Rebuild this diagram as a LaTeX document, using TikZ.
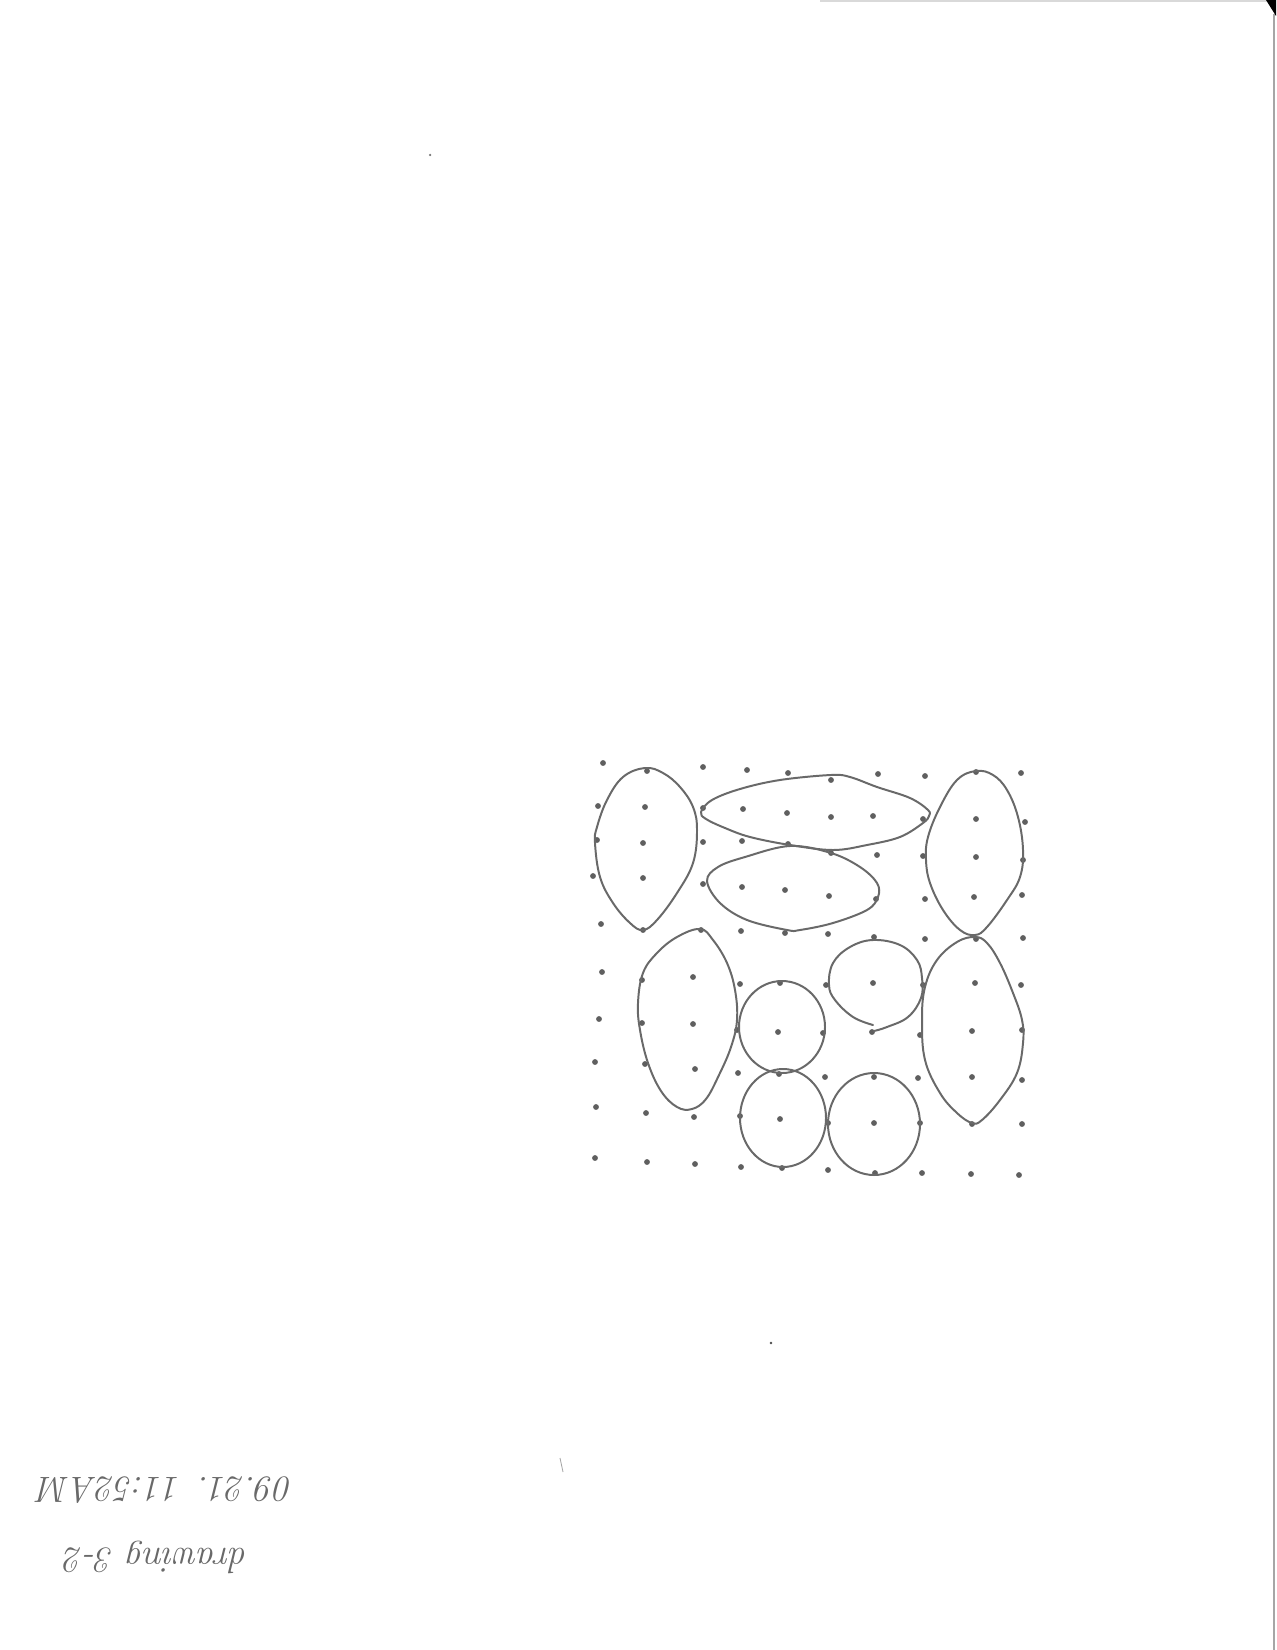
\documentclass[tikz,border=0pt]{standalone}
\usepackage{tikz}
\definecolor{pencil}{RGB}{105,105,105}
\definecolor{dotc}{RGB}{95,95,95}
\tikzset{
  outline/.style={draw=pencil, line width=0.95pt, line join=round, line cap=round},
  gdot/.style={fill=dotc},
  hand/.style={text=pencil, font=\fontsize{17.5}{20}\selectfont\itshape, inner sep=0pt, rotate=180}
}
\begin{document}
\begin{tikzpicture}[x=0.48pt,y=-0.48pt]
\useasboundingbox[fill=white] (0,0) rectangle (1276,1650);
% scan artefacts
\draw[black!15, line width=0.5pt] (820,1) -- (1268,1);
\draw[black!35, line width=0.8pt] (1274,14) -- (1274,1650);
\fill[black] (1266,0) -- (1276,0) -- (1276,16) -- cycle;
% grid of dots
\foreach \p in {
 (603,763),(647,771),(703,767),(747,770),(788,773),(831,780),(878,774),(925,776),(976,772),(1021,773),
 (598,806),(645,807),(703,808),(743,809),(787,813),(831,817),(873,816),(923,819),(976,819),(1025,822),
 (597,840),(643,843),(703,842),(742,841),(788,844),(831,853),(877,855),(923,856),(976,857),(1023,860),
 (593,876),(643,878),(703,884),(742,887),(785,890),(829,896),(876,899),(925,899),(974,897),(1022,895),
 (601,924),(643,930),(701,930),(741,931),(785,933),(828,934),(874,937),(925,939),(976,939),(1023,938),
 (602,972),(642,980),(693,977),(740,984),(780,983),(826,985),(873,983),(923,985),(975,983),(1021,985),
 (599,1019),(642,1023),(693,1024),(737,1030),(778,1032),(823,1033),(872,1032),(920,1035),(972,1031),(1022,1030),
 (595,1062),(645,1064),(695,1069),(738,1073),(779,1074),(825,1077),(874,1077),(918,1078),(972,1077),(1022,1080),
 (596,1107),(646,1113),(694,1117),(740,1116),(780,1119),(828,1123),(874,1123),(920,1123),(972,1124),(1022,1124),
 (595,1158),(647,1162),(695,1164),(741,1167),(782,1168),(828,1170),(875,1173),(922,1173),(971,1174),(1019,1175)}
 { \fill[gdot] \p circle[radius=1.4pt]; }
% stray marks
\fill[black!55] (430,155) circle[radius=0.6pt];
\fill[black!70] (771,1343) circle[radius=0.7pt];
\draw[black!35, line width=0.4pt] (560,1458) -- (563,1472);
% shapes
% left top egg
\draw[outline] plot[smooth cycle, tension=0.65] coordinates {
 (645,768) (663,773) (680,787) (693,807) (697,830) (693,863) (677,893) (657,920)
 (643,930) (630,923) (613,903) (600,877) (595,843) (597,827) (607,800) (623,777)};
% top middle leaf
\draw[outline] plot[smooth cycle, tension=0.6] coordinates {
 (701,812) (712,800) (740,789) (780,780) (831,775) (850,777) (877,787) (910,798) (928,810)
 (929,816) (923,823) (900,837) (867,845) (833,850) (790,845) (750,837) (725,828) (706,819)};
% lower leaf
\draw[outline] plot[smooth cycle, tension=0.6] coordinates {
 (707,881) (718,867) (745,857) (790,846) (831,853) (860,867) (877,883) (878,897)
 (867,910) (833,923) (800,930) (787,930) (747,920) (720,903)};
% right top egg
\draw[outline] plot[smooth cycle, tension=0.65] coordinates {
 (976,771) (993,775) (1007,790) (1018,817) (1023,850) (1020,877) (1007,900) (987,927)
 (975,935) (960,930) (943,910) (930,883) (926,860) (928,837) (940,807) (957,780)};
% left lower egg
\draw[outline] plot[smooth cycle, tension=0.65] coordinates {
 (700,929) (713,940) (727,963) (735,990) (737,1020) (731,1047) (719,1075) (706,1099)
 (692,1109) (677,1107) (661,1091) (648,1063) (640,1030) (638,1003) (643,973) (657,953) (677,937)};
% circles
\draw[outline] (782,1027) ellipse[x radius=43, y radius=46];
\draw[outline] (783,1118) ellipse[x radius=43, y radius=49];
\draw[outline] (874,1124) ellipse[x radius=46, y radius=51];
% open loop
\draw[outline] plot[smooth, tension=0.65] coordinates {
 (873,1025) (853,1017) (835,1000) (829,985) (833,963) (850,947) (873,940) (900,945)
 (917,960) (922,978) (921,998) (908,1017) (887,1027) (874,1031)};
% right lower egg
\draw[outline] plot[smooth cycle, tension=0.65] coordinates {
 (975,937) (987,943) (1000,963) (1013,993) (1022,1020) (1023,1043) (1017,1073) (1000,1100)
 (982,1120) (972,1123) (957,1113) (940,1093) (925,1060) (922,1020) (925,987) (937,960) (957,942)};
% handwritten note (upside down)
\node[hand] (date) at (166,1490) {09.21. 11:52AM};
\node[hand] (title) at (157,1557) {drawing 3-2};
\end{tikzpicture}
\end{document}
